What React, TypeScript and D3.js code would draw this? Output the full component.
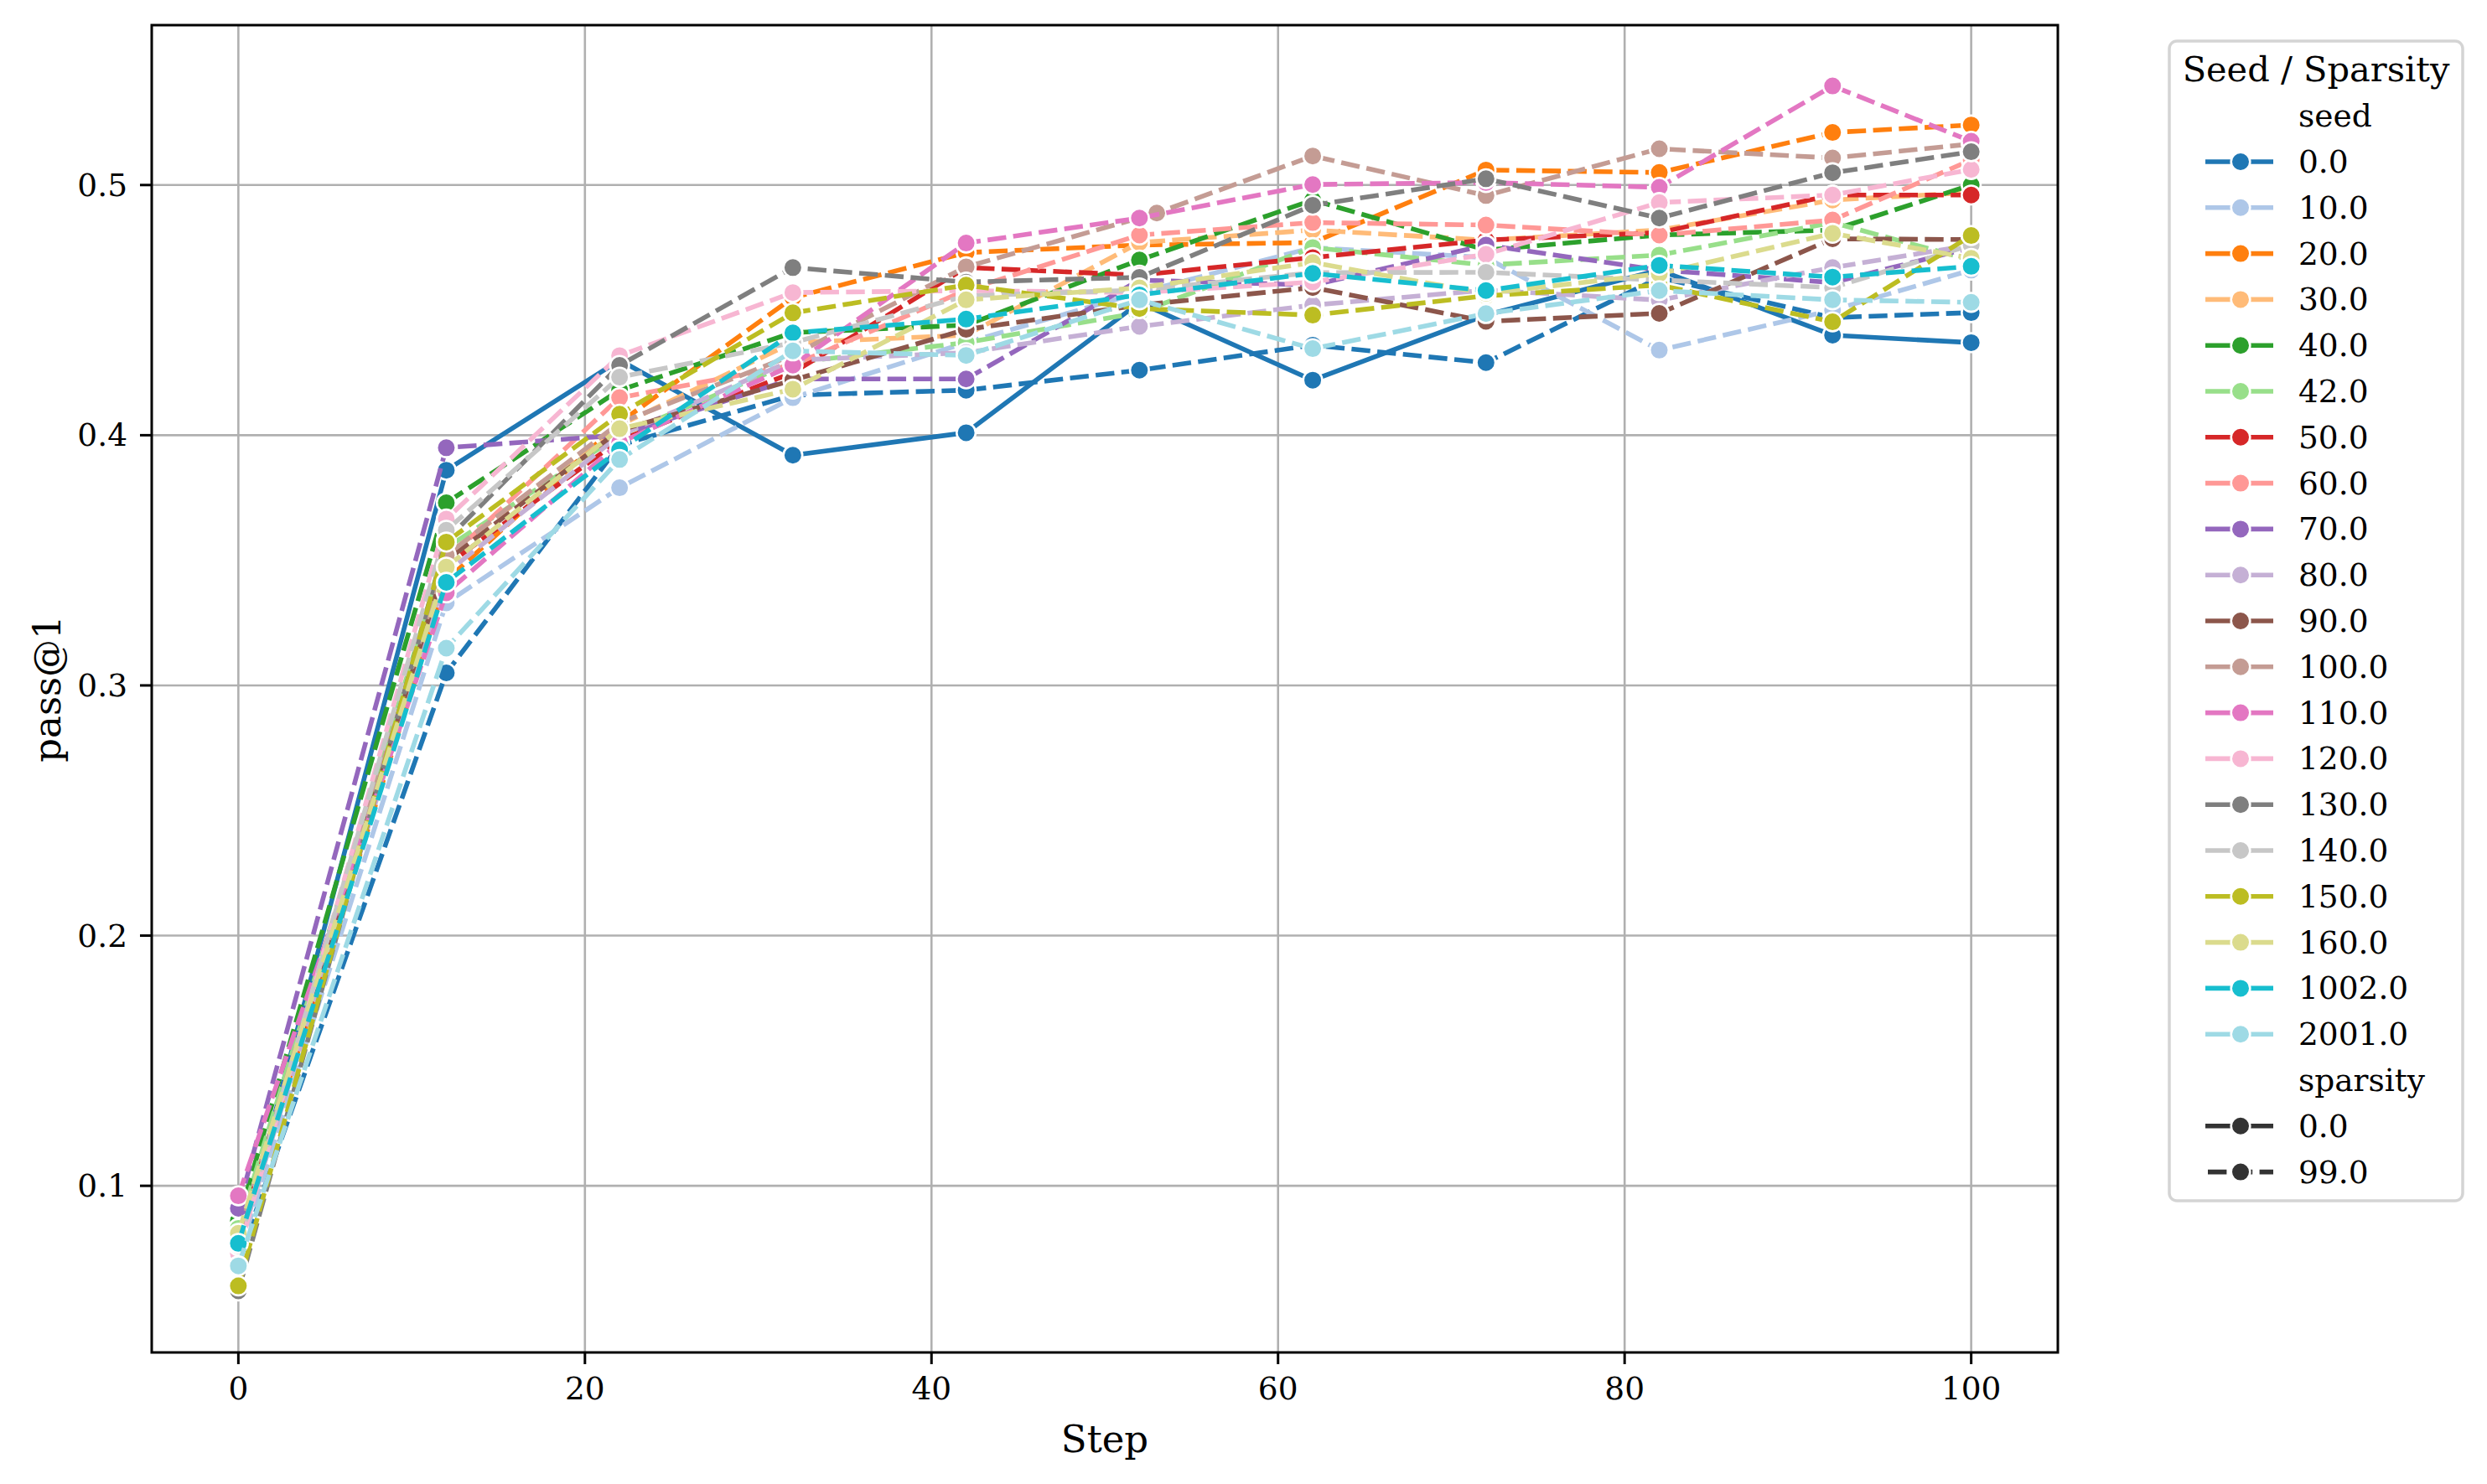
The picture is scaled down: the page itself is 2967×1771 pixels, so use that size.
import React from "react";
import * as d3 from "d3";

const STEPS = [0, 12, 22, 32, 42, 52, 62, 72, 82, 92, 100];
const STEPS_SEED100 = [0, 12, 22, 32, 42, 53, 62, 72, 82, 92, 100];
const X_TICKS = [0, 20, 40, 60, 80, 100];
const Y_TICKS = [0.1, 0.2, 0.3, 0.4, 0.5];

const SEEDS = ["0.0", "10.0", "20.0", "30.0", "40.0", "42.0", "50.0", "60.0", "70.0", "80.0", "90.0", "100.0", "110.0", "120.0", "130.0", "140.0", "150.0", "160.0", "1002.0", "2001.0"];
const SEED_COLORS = ["#1f77b4", "#aec7e8", "#ff7f0e", "#ffbb78", "#2ca02c", "#98df8a", "#d62728", "#ff9896", "#9467bd", "#c5b0d5", "#8c564b", "#c49c94", "#e377c2", "#f7b6d2", "#7f7f7f", "#c7c7c7", "#bcbd22", "#dbdb8d", "#17becf", "#9edae5"];
const SPARSITY = ["0.0", "99.0"];

// pass@1 per step, seed 0 at sparsity 0.0 (solid)
const SEED0_SP0 = [0.074, 0.386, 0.430, 0.392, 0.401, 0.453, 0.422, 0.448, 0.466, 0.440, 0.437];
// sparsity 99.0 (dashed)
const SEED0_SP99 = [0.070, 0.305, 0.396, 0.416, 0.418, 0.426, 0.436, 0.429, 0.463, 0.447, 0.449];
const SEED10 = [0.072, 0.333, 0.379, 0.415, 0.437, 0.457, 0.475, 0.471, 0.434, 0.450, 0.466];
const SEED20 = [0.078, 0.342, 0.405, 0.455, 0.473, 0.476, 0.477, 0.506, 0.505, 0.521, 0.524];
const SEED30 = [0.080, 0.352, 0.404, 0.437, 0.440, 0.477, 0.482, 0.478, 0.482, 0.494, 0.497];
const SEED40 = [0.086, 0.373, 0.418, 0.441, 0.444, 0.470, 0.494, 0.474, 0.480, 0.482, 0.500];
const SEED42 = [0.083, 0.355, 0.400, 0.429, 0.437, 0.449, 0.475, 0.468, 0.472, 0.485, 0.470];
const SEED50 = [0.079, 0.348, 0.398, 0.425, 0.467, 0.464, 0.471, 0.478, 0.481, 0.496, 0.496];
const SEED60 = [0.076, 0.350, 0.415, 0.428, 0.458, 0.480, 0.485, 0.484, 0.480, 0.486, 0.510];
const SEED70 = [0.091, 0.395, 0.400, 0.4225, 0.4225, 0.462, 0.460, 0.476, 0.466, 0.461, 0.475];
const SEED80 = [0.075, 0.345, 0.400, 0.430, 0.433, 0.4435, 0.452, 0.458, 0.454, 0.467, 0.476];
const SEED90 = [0.077, 0.350, 0.402, 0.422, 0.4423, 0.452, 0.459, 0.4455, 0.4487, 0.4785, 0.4782];
const SEED100 = [0.080, 0.352, 0.405, 0.432, 0.4673, 0.4888, 0.5116, 0.4958, 0.5145, 0.5108, 0.5164];
const SEED110 = [0.096, 0.337, 0.397, 0.428, 0.4768, 0.4868, 0.5002, 0.501, 0.4991, 0.5396, 0.5175];
const SEED120 = [0.073, 0.3665, 0.4318, 0.457, 0.4578, 0.457, 0.4612, 0.4723, 0.493, 0.496, 0.5062];
const SEED130 = [0.058, 0.358, 0.4279, 0.467, 0.4612, 0.4631, 0.4919, 0.5025, 0.4868, 0.5049, 0.5133];
const SEED140 = [0.076, 0.362, 0.4232, 0.437, 0.4557, 0.458, 0.465, 0.4651, 0.462, 0.459, 0.476];
const SEED150 = [0.060, 0.3573, 0.4084, 0.4489, 0.460, 0.4506, 0.448, 0.4557, 0.460, 0.4453, 0.4798];
const SEED160 = [0.081, 0.3473, 0.4026, 0.4184, 0.4541, 0.4589, 0.469, 0.4567, 0.4645, 0.4807, 0.4707];
const SEED1002 = [0.077, 0.3412, 0.3942, 0.4409, 0.4464, 0.4561, 0.4647, 0.4578, 0.4679, 0.4632, 0.4675];
const SEED2001 = [0.068, 0.3149, 0.3903, 0.4337, 0.4319, 0.4541, 0.4346, 0.4486, 0.4578, 0.4541, 0.4531];

type Series = { seed: number; sparsity: number; steps: number[]; values: number[] };

const SERIES: Series[] = [
  { seed: 0, sparsity: 0, steps: STEPS, values: SEED0_SP0 },
  { seed: 0, sparsity: 1, steps: STEPS, values: SEED0_SP99 },
  { seed: 1, sparsity: 1, steps: STEPS, values: SEED10 },
  { seed: 2, sparsity: 1, steps: STEPS, values: SEED20 },
  { seed: 3, sparsity: 1, steps: STEPS, values: SEED30 },
  { seed: 4, sparsity: 1, steps: STEPS, values: SEED40 },
  { seed: 5, sparsity: 1, steps: STEPS, values: SEED42 },
  { seed: 6, sparsity: 1, steps: STEPS, values: SEED50 },
  { seed: 7, sparsity: 1, steps: STEPS, values: SEED60 },
  { seed: 8, sparsity: 1, steps: STEPS, values: SEED70 },
  { seed: 9, sparsity: 1, steps: STEPS, values: SEED80 },
  { seed: 10, sparsity: 1, steps: STEPS, values: SEED90 },
  { seed: 11, sparsity: 1, steps: STEPS_SEED100, values: SEED100 },
  { seed: 12, sparsity: 1, steps: STEPS, values: SEED110 },
  { seed: 13, sparsity: 1, steps: STEPS, values: SEED120 },
  { seed: 14, sparsity: 1, steps: STEPS, values: SEED130 },
  { seed: 15, sparsity: 1, steps: STEPS, values: SEED140 },
  { seed: 16, sparsity: 1, steps: STEPS, values: SEED150 },
  { seed: 17, sparsity: 1, steps: STEPS, values: SEED160 },
  { seed: 18, sparsity: 1, steps: STEPS, values: SEED1002 },
  { seed: 19, sparsity: 1, steps: STEPS, values: SEED2001 },
];

const W = 2967;
const H = 1771;
const L = 181, R = 2455, T = 30, B = 1614;
const FONT = "'DejaVu Serif', serif";
const LW = 5.6;
const DASH = `${4 * LW},${1.5 * LW}`;
const MR = 11.3;

export default function App() {
  const x = d3.scaleLinear().domain([-5, 105]).range([L, R]);
  const y = d3.scaleLinear().domain([0.0334, 0.5639]).range([B, T]);
  const line = d3.line<[number, number]>().x((d) => x(d[0])).y((d) => y(d[1]));

  const legX = 2588, legY = 49, legW = 350, legH = 1384;
  const rowY0 = 193, rowH = 54.8;
  const hx0 = 2631, hx1 = 2712, hm = 2673, tx = 2742;

  return (
    <div style={{ position: "absolute", left: 0, top: 0 }}>
      <svg width={W} height={H} viewBox={`0 0 ${W} ${H}`} style={{ display: "block", background: "#fff" }}>
        <rect x={0} y={0} width={W} height={H} fill="#fff" />
        {/* grid */}
        {X_TICKS.map((t) => (
          <line key={"gx" + t} x1={x(t)} x2={x(t)} y1={T} y2={B} stroke="#b0b0b0" strokeWidth={2.6} />
        ))}
        {Y_TICKS.map((t) => (
          <line key={"gy" + t} x1={L} x2={R} y1={y(t)} y2={y(t)} stroke="#b0b0b0" strokeWidth={2.6} />
        ))}
        {/* series */}
        {SERIES.map((s, i) => {
          const pts: [number, number][] = s.steps.map((st, j) => [st, s.values[j]]);
          const c = SEED_COLORS[s.seed];
          return (
            <g key={"s" + i}>
              <path d={line(pts) || ""} fill="none" stroke={c} strokeWidth={LW}
                strokeDasharray={s.sparsity === 1 ? DASH : undefined} strokeLinejoin="round" />
              {pts.map((p, j) => (
                <circle key={j} cx={x(p[0])} cy={y(p[1])} r={MR} fill={c} stroke="#fff" strokeWidth={2.6} />
              ))}
            </g>
          );
        })}
        {/* spines */}
        <rect x={L} y={T} width={R - L} height={B - T} fill="none" stroke="#000" strokeWidth={3} />
        {/* ticks */}
        {X_TICKS.map((t) => (
          <g key={"tx" + t}>
            <line x1={x(t)} x2={x(t)} y1={B} y2={B + 14} stroke="#000" strokeWidth={3} />
            <text x={x(t)} y={1670} textAnchor="middle" fontFamily={FONT} fontSize={37.5} fill="#000">{d3.format("d")(t)}</text>
          </g>
        ))}
        {Y_TICKS.map((t) => (
          <g key={"ty" + t}>
            <line x1={L - 14} x2={L} y1={y(t)} y2={y(t)} stroke="#000" strokeWidth={3} />
            <text x={152} y={y(t)} textAnchor="end" dominantBaseline="central" fontFamily={FONT} fontSize={37.5} fill="#000">{d3.format(".1f")(t)}</text>
          </g>
        ))}
        {/* axis labels */}
        <text x={(L + R) / 2} y={1733} textAnchor="middle" fontFamily={FONT} fontSize={45} fill="#000">Step</text>
        <text transform={`translate(56,${(T + B) / 2}) rotate(-90)`} textAnchor="middle" dominantBaseline="central" fontFamily={FONT} fontSize={45} fill="#000">pass@1</text>
        {/* legend */}
        <rect x={legX} y={legY} width={legW} height={legH} rx={9} fill="#fff" fillOpacity={0.8} stroke="#d4d4d4" strokeWidth={3.5} />
        <text x={legX + legW / 2} y={97} textAnchor="middle" fontFamily={FONT} fontSize={41.5} fill="#000">Seed / Sparsity</text>
        <text x={tx} y={rowY0 - rowH} dominantBaseline="central" fontFamily={FONT} fontSize={37.5} fill="#000">seed</text>
        {SEEDS.map((sd, i) => {
          const cy = rowY0 + rowH * i;
          const c = SEED_COLORS[i];
          return (
            <g key={"lg" + sd}>
              <line x1={hx0} x2={hx1} y1={cy} y2={cy} stroke={c} strokeWidth={LW} />
              <circle cx={hm} cy={cy} r={MR} fill={c} stroke="#fff" strokeWidth={2.6} />
              <text x={tx} y={cy} dominantBaseline="central" fontFamily={FONT} fontSize={37.5} fill="#000">{sd}</text>
            </g>
          );
        })}
        <text x={tx} y={rowY0 + rowH * 20} dominantBaseline="central" fontFamily={FONT} fontSize={37.5} fill="#000">sparsity</text>
        {SPARSITY.map((sp, i) => {
          const cy = rowY0 + rowH * (21 + i);
          return (
            <g key={"ls" + sp}>
              <line x1={i === 1 ? hx0 + 3 : hx0} x2={hx1} y1={cy} y2={cy} stroke="#333" strokeWidth={LW}
                strokeDasharray={i === 1 ? DASH : undefined} />
              <circle cx={hm} cy={cy} r={MR} fill="#333" stroke="#fff" strokeWidth={2.6} />
              <text x={tx} y={cy} dominantBaseline="central" fontFamily={FONT} fontSize={37.5} fill="#000">{sp}</text>
            </g>
          );
        })}
      </svg>
    </div>
  );
}
